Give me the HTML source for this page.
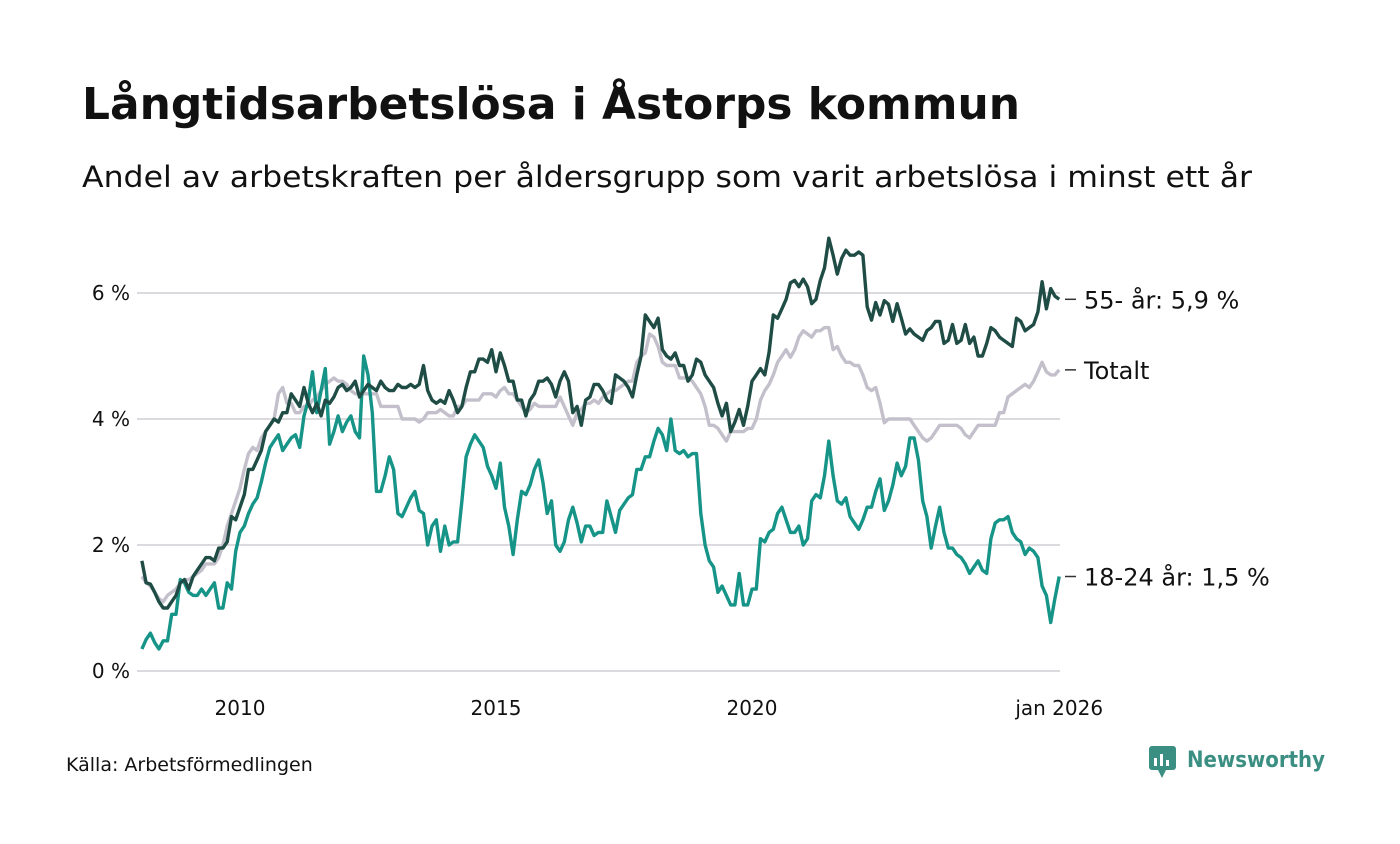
<!DOCTYPE html>
<html><head><meta charset="utf-8">
<style>
body{margin:0;background:#fff;width:1400px;height:840px;overflow:hidden;font-family:"DejaVu Sans","Liberation Sans",sans-serif;}
svg text{font-family:"DejaVu Sans","Liberation Sans",sans-serif;}
</style></head>
<body>
<svg id="chart" width="1400" height="840" xmlns="http://www.w3.org/2000/svg">
<text x="82" y="119" font-size="44" font-weight="bold" fill="#111" textLength="938" lengthAdjust="spacingAndGlyphs">Långtidsarbetslösa i Åstorps kommun</text>
<text x="82" y="187" font-size="29" fill="#111" textLength="1170" lengthAdjust="spacingAndGlyphs">Andel av arbetskraften per åldersgrupp som varit arbetslösa i minst ett år</text>
<g id="grid"></g>
<g id="yticks"></g>
<g id="xticks"></g>
<g id="lines"></g>
<g id="labels"></g>
<text x="66" y="771" font-size="19" fill="#111">Källa: Arbetsförmedlingen</text>
<g>
<rect x="1149" y="746" width="27" height="24" rx="3" fill="#3b8f82"/>
<path d="M1158 770 L1162 778 L1166 770 Z" fill="#3b8f82"/>
<rect x="1154" y="758" width="3" height="8" fill="#fff"/><rect x="1160" y="754" width="3" height="12" fill="#fff"/><rect x="1166" y="760" width="3" height="6" fill="#fff"/>
<text x="1187" y="767" font-size="22" font-weight="bold" fill="#3b8f82" textLength="138" lengthAdjust="spacingAndGlyphs">Newsworthy</text>
</g>
</svg>
<script>
const yTicks=[0,2,4,6];
const xTickYears=[2010,2015,2020];
const xTickLabels=["2010","2015","2020","jan 2026"];
const startMonth=1; // months since Jan 2008 (Feb 2008)
const seriesOld=[1.75,1.4,1.38,1.25,1.1,1.0,1.0,1.1,1.2,1.4,1.45,
1.3,1.5,1.6,1.7,1.8,1.8,1.75,1.95,1.95,2.05,2.45,2.4,
2.6,2.8,3.2,3.2,3.35,3.5,3.8,3.9,4.0,3.95,4.1,4.1,
4.4,4.3,4.2,4.5,4.25,4.1,4.25,4.05,4.3,4.25,4.35,4.5,
4.55,4.45,4.5,4.6,4.35,4.45,4.55,4.5,4.45,4.6,4.5,4.45,
4.45,4.55,4.5,4.5,4.55,4.5,4.55,4.85,4.45,4.3,4.25,4.3,
4.25,4.45,4.3,4.1,4.2,4.5,4.75,4.75,4.95,4.95,4.9,5.1,
4.75,5.05,4.85,4.6,4.6,4.3,4.3,4.05,4.3,4.4,4.6,4.6,
4.65,4.55,4.35,4.6,4.75,4.6,4.1,4.2,3.9,4.3,4.35,4.55,
4.55,4.45,4.3,4.25,4.7,4.65,4.6,4.5,4.35,4.7,5.0,5.65,
5.55,5.45,5.6,5.1,5.0,4.95,5.05,4.85,4.85,4.6,4.7,4.95,
4.9,4.7,4.6,4.5,4.25,4.05,4.25,3.8,3.95,4.15,3.9,4.2,
4.6,4.7,4.8,4.7,5.06,5.65,5.6,5.75,5.9,6.16,6.2,6.1,
6.22,6.1,5.83,5.9,6.2,6.4,6.87,6.6,6.3,6.55,6.68,6.6,
6.6,6.65,6.6,5.78,5.57,5.85,5.65,5.88,5.82,5.55,5.83,5.6,
5.35,5.43,5.35,5.3,5.25,5.4,5.45,5.55,5.55,5.2,5.25,5.5,
5.2,5.25,5.5,5.2,5.3,5.0,5.0,5.2,5.45,5.4,5.3,5.25,
5.2,5.15,5.6,5.55,5.4,5.45,5.5,5.7,6.18,5.75,6.07,5.95,
5.9];
const seriesTotal=[1.5,1.4,1.35,1.25,1.15,1.1,1.2,1.25,1.3,1.4,1.45,
1.45,1.5,1.55,1.6,1.7,1.7,1.7,1.8,2.0,2.3,2.5,2.7,
2.9,3.2,3.45,3.55,3.5,3.7,3.8,3.9,4.0,4.4,4.5,4.25,
4.25,4.1,4.1,4.2,4.2,4.3,4.35,4.45,4.55,4.6,4.65,4.6,
4.6,4.55,4.45,4.4,4.4,4.4,4.4,4.4,4.4,4.2,4.2,4.2,
4.2,4.2,4.0,4.0,4.0,4.0,3.95,4.0,4.1,4.1,4.1,4.15,
4.1,4.05,4.05,4.2,4.2,4.3,4.3,4.3,4.3,4.4,4.4,4.4,
4.35,4.45,4.5,4.4,4.4,4.3,4.2,4.1,4.15,4.25,4.2,4.2,
4.2,4.2,4.2,4.35,4.2,4.05,3.9,4.1,4.15,4.25,4.25,4.3,
4.25,4.35,4.4,4.45,4.45,4.5,4.55,4.6,4.6,4.9,5.0,5.05,
5.35,5.3,5.15,4.9,4.85,4.85,4.85,4.65,4.65,4.65,4.6,4.5,
4.4,4.2,3.9,3.9,3.85,3.75,3.65,3.8,3.8,3.8,3.8,3.85,
3.85,4.0,4.3,4.45,4.55,4.7,4.9,5.0,5.1,4.98,5.1,5.3,
5.4,5.35,5.3,5.4,5.4,5.45,5.45,5.1,5.15,5.0,4.9,4.9,
4.85,4.85,4.7,4.5,4.45,4.5,4.25,3.94,4.0,4.0,4.0,4.0,
4.0,4.0,3.9,3.8,3.7,3.65,3.7,3.8,3.9,3.9,3.9,3.9,
3.9,3.85,3.75,3.7,3.8,3.9,3.9,3.9,3.9,3.9,4.1,4.1,
4.35,4.4,4.45,4.5,4.55,4.5,4.6,4.75,4.9,4.75,4.7,4.7,
4.78];
const seriesYoung=[0.35,0.5,0.6,0.45,0.35,0.48,0.48,0.9,0.9,1.45,1.4,
1.25,1.2,1.2,1.3,1.2,1.3,1.4,1.0,1.0,1.4,1.3,1.9,
2.2,2.3,2.5,2.65,2.75,3.0,3.3,3.55,3.65,3.75,3.5,3.6,
3.7,3.75,3.55,4.05,4.3,4.75,4.1,4.45,4.8,3.6,3.8,4.05,
3.8,3.95,4.05,3.8,3.7,5.0,4.7,4.1,2.85,2.85,3.1,3.4,
3.2,2.5,2.45,2.6,2.75,2.85,2.55,2.5,2.0,2.3,2.4,1.9,
2.3,2.0,2.05,2.05,2.7,3.4,3.6,3.75,3.65,3.55,3.25,3.1,
2.9,3.3,2.6,2.3,1.85,2.4,2.85,2.8,2.95,3.2,3.35,3.0,
2.5,2.7,2.0,1.9,2.05,2.4,2.6,2.35,2.05,2.3,2.3,2.15,
2.2,2.2,2.7,2.45,2.2,2.55,2.65,2.75,2.8,3.2,3.2,3.4,
3.4,3.65,3.85,3.75,3.5,4.0,3.5,3.45,3.5,3.4,3.45,3.45,
2.5,2.0,1.75,1.65,1.25,1.35,1.2,1.05,1.05,1.55,1.05,1.05,
1.3,1.3,2.1,2.05,2.2,2.25,2.5,2.6,2.4,2.2,2.2,2.3,
2.0,2.1,2.7,2.8,2.75,3.1,3.65,3.1,2.7,2.65,2.75,2.45,
2.35,2.25,2.4,2.6,2.6,2.85,3.05,2.55,2.7,2.95,3.3,3.1,
3.25,3.7,3.7,3.35,2.7,2.45,1.95,2.3,2.6,2.2,1.95,1.95,
1.85,1.8,1.7,1.55,1.65,1.75,1.6,1.55,2.1,2.35,2.4,2.4,
2.45,2.2,2.1,2.05,1.85,1.95,1.9,1.8,1.35,1.2,0.77,1.15,
1.5];
const seriesNames=["55- år: 5,9 %","Totalt","18-24 år: 1,5 %"];

const NS="http://www.w3.org/2000/svg";
const plotLeft=137.6, monthW=51.2/12, y0=671, yPer=63;
function xScale(m){return plotLeft+m*monthW;}
function yScale(v){return y0-v*yPer;}
function mk(tag,attrs,parent){const e=document.createElementNS(NS,tag);for(const k in attrs)e.setAttribute(k,attrs[k]);parent.appendChild(e);return e;}
const grid=document.getElementById('grid'),yt=document.getElementById('yticks'),xt=document.getElementById('xticks'),lines=document.getElementById('lines'),labels=document.getElementById('labels');
yTicks.forEach(v=>{
  const l=mk('line',{x1:137,x2:1060,y1:yScale(v),y2:yScale(v),stroke:'#dcdadf','stroke-width':2},grid);
  
  
  const t=mk('text',{x:130,y:yScale(v)+7,'text-anchor':'end','font-size':20,fill:'#111'},yt);
  t.textContent=v+' %';
  
  
});
const lastM=startMonth+seriesOld.length-1;
const xPos=xTickYears.map(y=>(y-2008)*12).concat([lastM]);
xPos.forEach((m,i)=>{
  const t=mk('text',{x:xScale(m),y:715,'text-anchor':'middle','font-size':20,fill:'#111'},xt);
  t.textContent=xTickLabels[i];
  
  
});
function drawLine(data,color,name){
  const d=data.map((v,i)=>(i?'L':'M')+xScale(startMonth+i).toFixed(1)+' '+yScale(v).toFixed(1)).join(' ');
  const p=mk('path',{d:d,fill:'none',stroke:color,'stroke-width':3.4,'stroke-linejoin':'round'},lines);
  
  
}
drawLine(seriesTotal,'#c3c0cb','line-totalt');
drawLine(seriesYoung,'#169488','line-18-24');
drawLine(seriesOld,'#1f4d45','line-55');
const lastVals=[seriesOld[seriesOld.length-1],seriesTotal[seriesTotal.length-1],seriesYoung[seriesYoung.length-1]];
lastVals.forEach((v,i)=>{
  const y=yScale(v);
  mk('line',{x1:1065,x2:1076,y1:y,y2:y,stroke:'#333','stroke-width':1.5},labels);
  const t=mk('text',{x:1084,y:y+9,'font-size':24,fill:'#111'},labels);
  t.textContent=seriesNames[i];
  
  
});
</script>
</body></html>
